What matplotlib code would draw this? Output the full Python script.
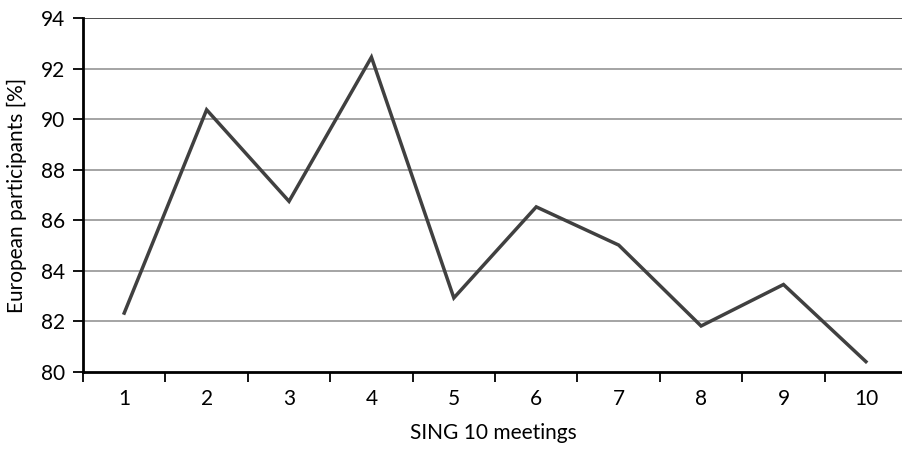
import numpy as np
import matplotlib.pyplot as plt
from matplotlib.ticker import FixedLocator, NullFormatter

plt.rcParams.update({'font.family': ['Lato', 'DejaVu Sans'], 'font.size': 15})

# meetings and share of European participants
meetings = [1, 2, 3, 4, 5, 6, 7, 8, 9, 10]
european = [82.33, 90.37, 86.75, 92.45, 82.93, 86.53, 85.02, 81.82, 83.46, 80.41]
y_ticks = [80, 82, 84, 86, 88, 90, 92, 94]

fig = plt.figure(figsize=(9.03, 4.51), dpi=100)
ax = fig.add_axes([83/903, 1 - 372/451, 1 - 83/903, (372 - 18)/451])

for yv in y_ticks[1:-1]:
    ax.axhline(yv, color='#8c8c8c', lw=1.1, zorder=1)
ax.axhline(y_ticks[-1], color='#1a1a1a', lw=1.1, zorder=1)

ax.plot(meetings, european, color='#404040', lw=2.5, solid_joinstyle='miter', zorder=3)

ax.set_xlim(0.5, 10.45)
ax.set_ylim(80, 94)
ax.set_yticks(y_ticks)

# category boundaries carry the ticks, labels sit at the centres
ax.xaxis.set_major_locator(FixedLocator(np.arange(0.5, 11, 1)))
ax.xaxis.set_major_formatter(NullFormatter())
ax.xaxis.set_minor_locator(FixedLocator(meetings))
ax.set_xticklabels([str(m) for m in meetings], minor=True)
ax.tick_params(axis='x', which='major', length=7, width=1.3, direction='out')
ax.tick_params(axis='x', which='minor', length=0, pad=12)
ax.tick_params(axis='y', length=7, width=1.3, direction='out', pad=6)

for s in ['top', 'right']:
    ax.spines[s].set_visible(False)
for s in ['left', 'bottom']:
    ax.spines[s].set_linewidth(2)
    ax.spines[s].set_color('black')

ax.set_xlabel('SING 10 meetings', labelpad=10)
ax.set_ylabel('European participants [%]')
ax.yaxis.set_label_coords(-56/820, 0.5)

fig.savefig('out.png', dpi=100)
